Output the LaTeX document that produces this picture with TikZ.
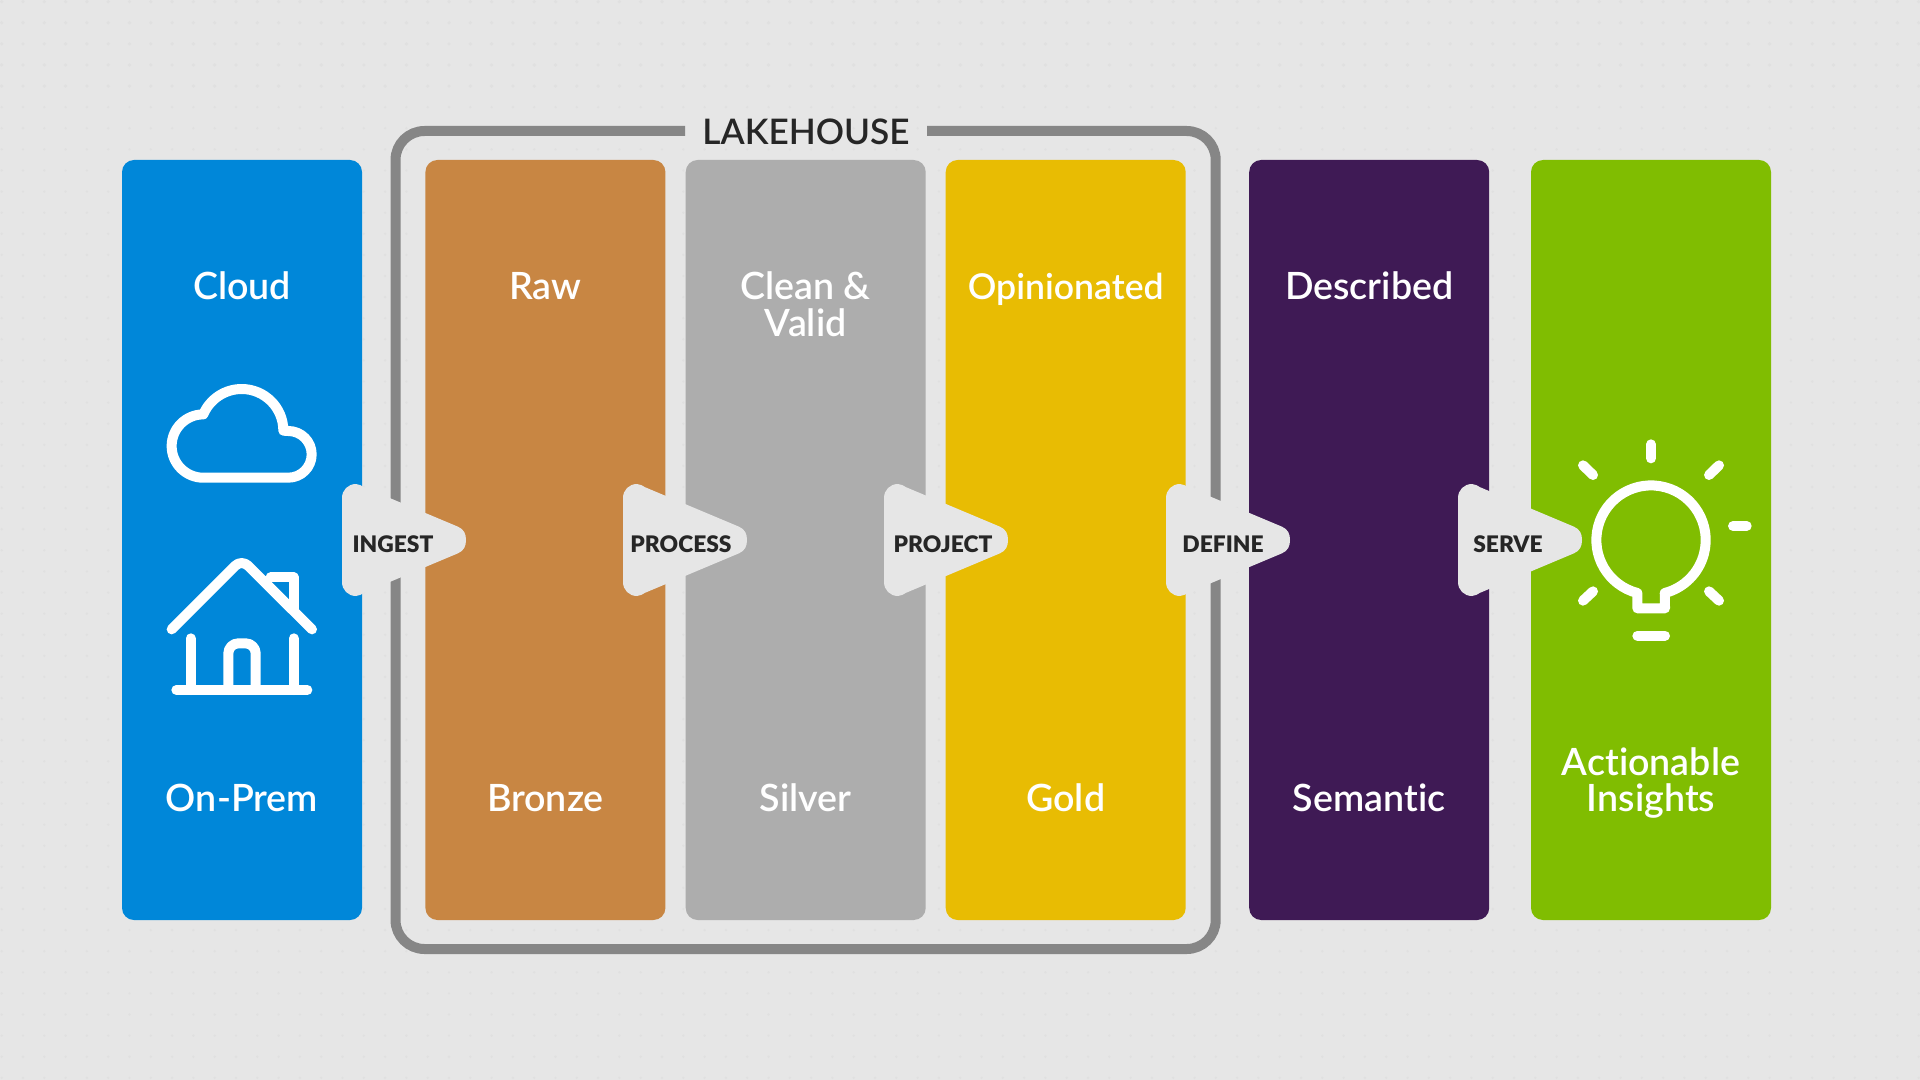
\documentclass[tikz,border=0pt]{standalone}
\usepackage{fontspec}
\setmainfont{Lato}
\newfontfamily\colfont[Ligatures=CommonOff]{Lato Semibold}
\newfontfamily\stepfont[Ligatures=CommonOff]{Lato Black}
\definecolor{bgc}{HTML}{E6E6E6}
\definecolor{dotc}{HTML}{E0E0E0}
\definecolor{cblue}{HTML}{0087D9}
\definecolor{corange}{HTML}{C88643}
\definecolor{cgrey}{HTML}{ADADAD}
\definecolor{cyellow}{HTML}{E8BC03}
\definecolor{cpurple}{HTML}{3F1A55}
\definecolor{cgreen}{HTML}{80BD01}
\definecolor{cframe}{HTML}{868686}
\definecolor{cink}{HTML}{262626}
\tikzset{
  x=0.5pt,y=-0.5pt,
  colbox/.style={rounded corners=6pt,minimum width=120pt,minimum height=380pt,inner sep=0pt,outer sep=0pt,anchor=center},
  coltext/.style={text=white,font=\colfont\fontsize{18.8pt}{18pt}\selectfont,align=center,inner sep=0pt,anchor=base},
  steptext/.style={text=cink,font=\stepfont\fontsize{11.4pt}{12pt}\selectfont,inner sep=0pt,anchor=base},
  icon/.style={draw=white,line width=5pt,line cap=round,line join=round},
  iconzoom/.style={x=0.16667pt,y=-0.16667pt},
  flowarrow/.pic={
    \fill[bgc] (0,-42) .. controls (0,-50) and (6,-56) .. (14,-56)
      .. controls (17,-56) and (20,-54) .. (22,-52.8)
      -- (116,-13.3) .. controls (122,-10.7) and (124,-6) .. (124,0)
      .. controls (124,6) and (122,10.7) .. (116,13.3)
      -- (22,52.8) .. controls (20,54) and (17,56) .. (14,56)
      .. controls (6,56) and (0,50) .. (0,42) -- cycle;
  }
}
\begin{document}
\begin{tikzpicture}
\useasboundingbox (0,0) rectangle (1920,1080);
\fill[bgc] (0,0) rectangle (1920,1080);
\foreach \i in {0,...,90} { \foreach \j in {0,...,51} {
  \ifnum\j<5 \fill[dotc] ({1.7+21.3*\i},{1.7+21.1*\j}) circle[radius=1.8];
  \else \fill[dotc] ({1.7+21.3*\i},{1.7+21.1*\j}) circle[radius=1.3]; \fi
} }
% lakehouse frame
\node[font=\colfont\fontsize{17.6pt}{18pt}\selectfont,text=cink,inner sep=0pt,anchor=base] (lake) at (806,145) {LAKEHOUSE};
\coordinate (fa) at (685,131);
\coordinate (fb) at (927,131);
\draw[cframe,line width=5pt,rounded corners=14.5pt] (fa) -- (395.5,131) -- (395.5,949) -- (1215.7,949) -- (1215.7,131) -- (fb);
% columns
\node[colbox,fill=cblue] (c1) at (242,540) {};
\node[colbox,fill=corange] (c2) at (545.4,540) {};
\node[colbox,fill=cgrey] (c3) at (805.7,540) {};
\node[colbox,fill=cyellow] (c4) at (1065.7,540) {};
\node[colbox,fill=cpurple] (c5) at (1369.2,540) {};
\node[colbox,fill=cgreen] (c6) at (1651,540) {};
% column texts
\node[coltext] (t1) at (242,299.5) {Cloud};
\node[coltext] (b1) at (242,811) {On-Prem};
\node[coltext] (t2) at (545.4,299.5) {Raw};
\node[coltext] (b2) at (545.4,811) {Bronze};
\node[coltext] (t3a) at (805.7,299.5) {Clean \&};
\node[coltext] (t3b) at (805.7,336.5) {Valid};
\node[coltext] (b3) at (805.7,811) {Silver};
\node[coltext,font=\colfont\fontsize{17.8pt}{18pt}\selectfont] (t4) at (1065.7,299.5) {Opinionated};
\node[coltext] (b4) at (1065.7,811) {Gold};
\node[coltext] (t5) at (1369.2,299.5) {Described};
\node[coltext] (b5) at (1369.2,811) {Semantic};
\node[coltext] (b6a) at (1651,775) {Actionable};
\node[coltext] (b6b) at (1651,811) {Insights};
% arrows
\pic at (342,540) {flowarrow};
\pic at (623,540) {flowarrow};
\pic at (884,540) {flowarrow};
\pic at (1166,540) {flowarrow};
\pic at (1458,540) {flowarrow};
\node[steptext] (a1) at (393,552) {INGEST};
\node[steptext] (a2) at (681,552) {PROCESS};
\node[steptext] (a3) at (943,552) {PROJECT};
\node[steptext] (a4) at (1223,552) {DEFINE};
\node[steptext] (a5) at (1508,552) {SERVE};
% cloud and house icons
\begin{scope}[shift={(110,360)},iconzoom]
  \draw[icon] (275,353) -- (535,353) arc[start angle=90,end angle=-90,radius=70]
    -- (520,212) arc[start angle=0,end angle=-157,radius=125]
    arc[start angle=-90,end angle=-270,radius=95] -- cycle;
  \draw[icon,rounded corners=4.5pt] (185,808) -- (395,598) -- (606,808);
  \draw[icon] (482,652) -- (551,652) -- (551,745);
  \draw[icon] (242,835) -- (242,990);
  \draw[icon] (551,835) -- (551,990);
  \draw[icon] (199,990) -- (592,990);
  \draw[icon,rounded corners=5pt] (355,990) -- (355,850) -- (437,850) -- (437,990);
\end{scope}
% bulb icon
\begin{scope}[shift={(1440,420)},iconzoom]
  \draw[icon] (592,519) arc[start angle=104.5,end angle=435.5,radius=164] -- (675,565) -- (592,565) -- cycle;
  \draw[icon] (633,73) -- (633,115);
  \draw[icon] (879,318) -- (920,318);
  \draw[icon] (429,136) -- (459,165);
  \draw[icon] (837,136) -- (807,165);
  \draw[icon] (429,542) -- (459,514);
  \draw[icon] (837,542) -- (807,514);
  \draw[icon] (592,647) -- (675,647);
\end{scope}
\end{tikzpicture}
\end{document}
